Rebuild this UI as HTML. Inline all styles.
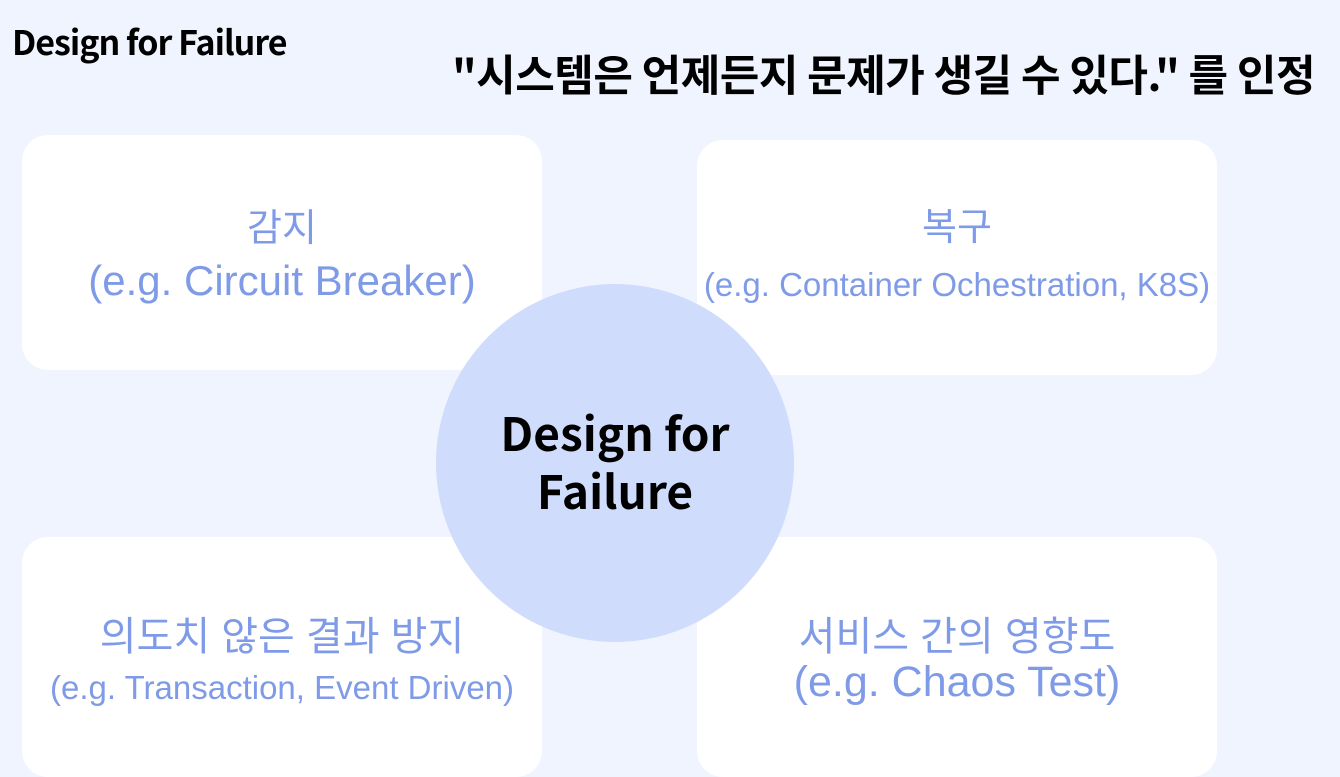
<!DOCTYPE html>
<html><head><meta charset="utf-8"><style>
html,body{margin:0;padding:0}
body{width:1340px;height:754px;background:#eff4fe;position:relative;overflow:hidden;font-family:"Liberation Sans","Noto Sans CJK KR",sans-serif}
.t{position:absolute;white-space:nowrap}
.box{position:absolute;background:#fff;border-radius:26px;width:520px}
.lbl{position:absolute;color:#7f9be8;text-align:center;white-space:nowrap}
</style></head><body>
<div class="t" style="left:12px;top:16px;font-size:34px;font-weight:bold;font-family:'Noto Sans CJK KR',sans-serif;letter-spacing:-1px;">Design for Failure</div>
<div class="t" style="left:452px;top:42px;font-size:43px;font-weight:bold;font-family:'Noto Sans CJK KR',sans-serif;letter-spacing:-0.5px;">"시스템은 언제든지 문제가 생길 수 있다." 를 인정</div>
<div class="box" style="left:22px;top:135px;height:235px"></div>
<div class="box" style="left:697px;top:140px;height:235px"></div>
<div class="box" style="left:22px;top:537px;height:240px"></div>
<div class="box" style="left:697px;top:537px;height:240px"></div>
<div style="position:absolute;left:436px;top:284px;width:358px;height:358px;border-radius:50%;background:#cfdcfc"></div>
<div class="lbl" style="left:22px;width:520px;top:203px;font-size:38px;line-height:52px">감지<br><span style="font-size:42px">(e.g. Circuit Breaker)</span></div>
<div class="lbl" style="left:697px;width:520px;top:204px;font-size:38px;line-height:48px">복구</div>
<div class="lbl" style="left:697px;width:520px;top:266px;font-size:33px">(e.g. Container Ochestration, K8S)</div>
<div class="lbl" style="left:22px;width:520px;top:604px;font-size:40px">의도치 않은 결과 방지</div>
<div class="lbl" style="left:22px;width:520px;top:669px;font-size:33px">(e.g. Transaction, Event Driven)</div>
<div class="lbl" style="left:697px;width:520px;top:604px;font-size:40px">서비스 간의 영향도</div>
<div class="lbl" style="left:697px;width:520px;top:658px;font-size:43px">(e.g. Chaos Test)</div>
<div class="t" style="left:436px;width:358px;top:403px;text-align:center;font-size:46px;font-weight:bold;line-height:58px;font-family:'Noto Sans CJK KR',sans-serif;color:#000">Design for<br>Failure</div>
</body></html>
